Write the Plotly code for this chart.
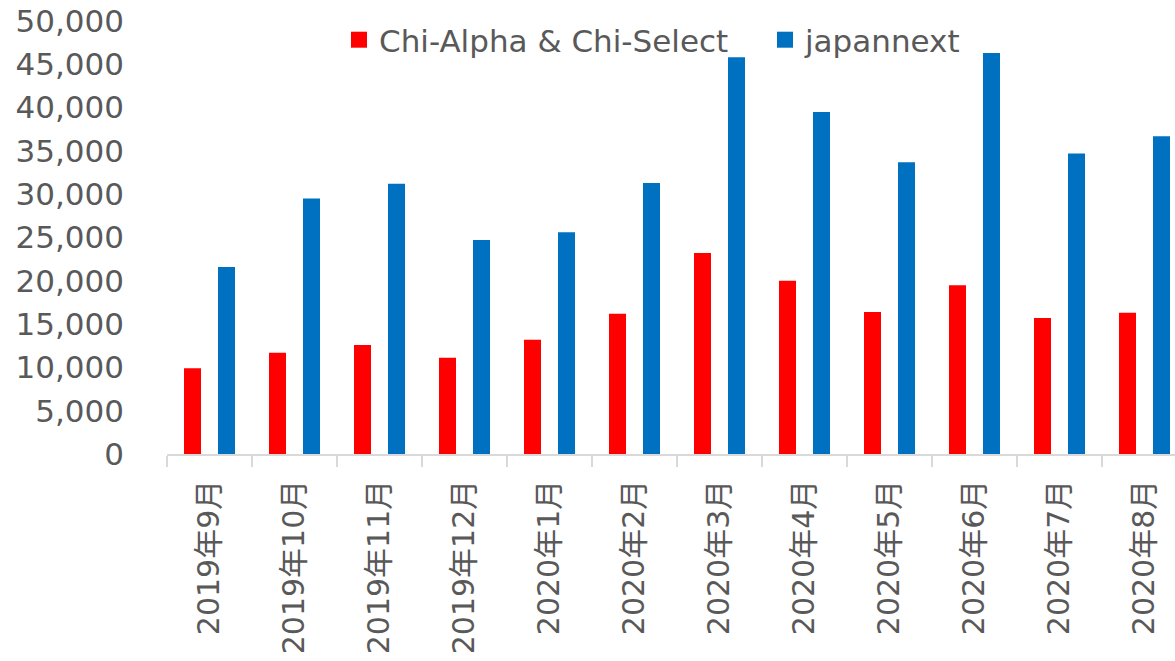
import plotly.graph_objects as go

months = ["2019年9月", "2019年10月", "2019年11月", "2019年12月", "2020年1月", "2020年2月",
          "2020年3月", "2020年4月", "2020年5月", "2020年6月", "2020年7月", "2020年8月"]
chi_values = [9900, 11700, 12600, 11100, 13200, 16200, 23200, 20000, 16400, 19500, 15700, 16300]
japannext_values = [21600, 29500, 31200, 24700, 25600, 31300, 45800, 39500, 33700, 46300, 34700, 36700]

series_names = ["Chi-Alpha & Chi-Select", "japannext"]
colors = ["#FF0000", "#0070C0"]

FONT = "DejaVu Sans, Noto Sans CJK JP, sans-serif"
GREY = "#595959"

fig = go.Figure()
fig.add_trace(go.Bar(x=months, y=chi_values, marker=dict(color=colors[0], line_width=0),
                     name=series_names[0], showlegend=False))
fig.add_trace(go.Bar(x=months, y=japannext_values, marker=dict(color=colors[1], line_width=0),
                     name=series_names[1], showlegend=False))
# legend entries with larger square swatches
for nm, c in zip(series_names, colors):
    fig.add_trace(go.Scatter(x=[None], y=[None], mode="markers", name=nm,
                             marker=dict(symbol="square", size=20, color=c)))

fig.update_layout(
    width=1175, height=661,
    margin=dict(l=167, r=0, t=21, b=207, autoexpand=False),
    paper_bgcolor="white", plot_bgcolor="white",
    barmode="group", bargap=0.2, bargroupgap=0.5,
    font=dict(family=FONT, color=GREY, size=30),
    legend=dict(orientation="h", x=(339 - 167) / 1008, xanchor="left", y=0.956, yanchor="middle",
                bgcolor="rgba(0,0,0,0)", font=dict(size=31, color=GREY),
                itemsizing="trace", entrywidth=381, entrywidthmode="pixels"),
    xaxis=dict(type="category", range=[-0.5, 11.5 - 12 / 85], tickangle=-90,
               showline=True, linecolor="#D9D9D9", linewidth=1.5,
               ticks="outside", tickson="boundaries", ticklen=11, tickcolor="#D9D9D9",
               tickwidth=1.5, showgrid=False, tickfont=dict(size=30, color=GREY),
               ticklabelstandoff=12, automargin=False),
    yaxis=dict(range=[0, 50000], dtick=5000, tickformat=",", showgrid=False,
               showline=False, zeroline=False, ticks="", tickfont=dict(size=31, color=GREY),
               ticklabelstandoff=42, automargin=False),
)

fig.write_html("out.html")
